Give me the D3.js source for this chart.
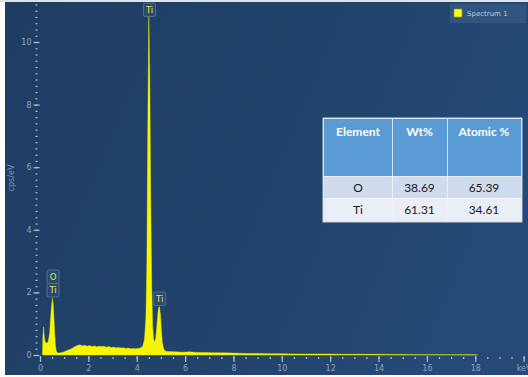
<!DOCTYPE html>
<html>
<head>
<meta charset="utf-8">
<script src="https://cdn.jsdelivr.net/npm/d3@7"></script>
<style>
  html, body { margin: 0; padding: 0; background: #ffffff; }
  svg { display: block; }
</style>
</head>
<body>
<svg id="chart" width="528" height="377"></svg>
<script>
// EDS spectrum of a TiO2 sample: energy (keV) vs counts (cps/eV)
const energy = [
  0.10, 0.12, 0.15, 0.18, 0.22, 0.28, 0.34, 0.40, 0.44, 0.48, 0.52, 0.56, 0.60, 0.64, 0.68,
  0.75, 0.85, 0.95, 1.05, 1.15, 1.25, 1.35, 1.45, 1.55, 1.65, 1.75, 1.85, 1.95, 2.05, 2.15,
  2.25, 2.35, 2.45, 2.55, 2.65, 2.75, 2.85, 2.95, 3.05, 3.15, 3.25, 3.35, 3.45, 3.55, 3.65,
  3.75, 3.85, 3.95, 4.05, 4.15, 4.25, 4.32, 4.38, 4.42, 4.46, 4.50, 4.54, 4.58, 4.62, 4.66,
  4.70, 4.74, 4.78, 4.82, 4.86, 4.90, 4.94, 4.98, 5.02, 5.06, 5.12, 5.20, 5.30, 5.60, 5.90,
  6.20, 6.50, 6.80, 7.20, 7.60, 8.00, 8.50, 9.00, 9.50, 10.00, 10.50, 11.00, 11.50, 12.00, 12.50,
  13.00, 13.50, 14.00, 14.50, 15.00, 15.50, 16.00, 16.50, 17.00, 17.50, 18.00, 18.10
];
const cps = [
  0.00, 0.60, 0.90, 0.55, 0.40, 0.38, 0.42, 0.70, 1.20, 1.60, 1.82, 1.45, 0.80, 0.30, 0.10,
  0.06, 0.07, 0.09, 0.12, 0.15, 0.18, 0.22, 0.27, 0.30, 0.33, 0.29, 0.31, 0.28, 0.30, 0.27,
  0.29, 0.26, 0.28, 0.27, 0.28, 0.25, 0.27, 0.24, 0.25, 0.23, 0.24, 0.22, 0.23, 0.21, 0.22,
  0.20, 0.21, 0.20, 0.21, 0.22, 0.28, 0.50, 1.20, 3.00, 7.50, 10.85, 9.00, 5.00, 2.20, 0.90,
  0.50, 0.42, 0.50, 0.80, 1.20, 1.50, 1.55, 1.30, 0.80, 0.40, 0.18, 0.12, 0.11, 0.10, 0.09,
  0.10, 0.08, 0.08, 0.07, 0.07, 0.06, 0.05, 0.05, 0.04, 0.04, 0.03, 0.03, 0.03, 0.03, 0.02,
  0.02, 0.02, 0.02, 0.015, 0.015, 0.01, 0.01, 0.01, 0.008, 0.008, 0.005, 0.00
];

// Peak identification markers
const peakNames = ["Ti", "O", "Ti", "Ti"];
const peakEnergy = [0.52, 0.52, 4.51, 4.93];

// Axis ticks
const xMajorTicks = [0, 2, 4, 6, 8, 10, 12, 14, 16, 18, 20];
const xTickLabels = ["0", "2", "4", "6", "8", "10", "12", "14", "16", "18", "keV"];
const yMajorTicks = [0, 2, 4, 6, 8, 10];

// Quantification table
const tableHeader = ["Element", "Wt%", "Atomic %"];
const tableElements = ["O", "Ti"];
const tableWt = ["38.69", "61.31"];
const tableAtomic = ["65.39", "34.61"];

const legendLabel = "Spectrum 1";

const svg = d3.select("#chart");
const W = 528, H = 377;

// Background panel
const defs = svg.append("defs");
const grad = defs.append("linearGradient").attr("id", "bg").attr("x1", 0).attr("y1", 0).attr("x2", 1).attr("y2", 0.3);
grad.append("stop").attr("offset", 0).attr("stop-color", "#1e3d63");
grad.append("stop").attr("offset", 0.6).attr("stop-color", "#21436b");
grad.append("stop").attr("offset", 1).attr("stop-color", "#254a77");
svg.append("rect").attr("x", 0).attr("y", 0).attr("width", W).attr("height", H).attr("fill", "#ffffff");
svg.append("rect").attr("x", 0).attr("y", 0).attr("width", W).attr("height", 2).attr("fill", "#dfe3e8");
svg.append("rect").attr("x", 5).attr("y", 2).attr("width", W - 5).attr("height", 373).attr("fill", "url(#bg)");

const x = d3.scaleLinear().domain([0, 20]).range([40, 523.6]);
const y = d3.scaleLinear().domain([0, 10]).range([355, 42]);

const tickColor = "#aebfd4";
const labelColor = "#8ea4bf";

// Y axis: minor ticks every 0.2, major every 2
const yMinor = d3.axisLeft(y).tickValues(d3.range(0, 11.21, 0.2)).tickSize(2).tickFormat("");
svg.append("g").attr("transform", "translate(37.5,0)").call(yMinor)
  .call(g => g.select(".domain").remove())
  .call(g => g.selectAll("line").attr("stroke", tickColor).attr("stroke-width", 1.2));
const yMajor = d3.axisLeft(y).tickValues(yMajorTicks).tickSize(6).tickPadding(2).tickFormat(d3.format("d"));
svg.append("g").attr("transform", "translate(39.5,0)").call(yMajor)
  .call(g => g.select(".domain").remove())
  .call(g => g.selectAll("line").attr("stroke", tickColor).attr("stroke-width", 1.2))
  .call(g => g.selectAll("text").attr("fill", labelColor).attr("font-size", 8).attr("font-family", "DejaVu Sans"));

// X axis: minor ticks every 0.5 keV, major every 2 keV
const xMinor = d3.axisBottom(x).tickValues(d3.range(0, 20.01, 0.5)).tickSize(2).tickFormat("");
svg.append("g").attr("transform", "translate(0,357)").call(xMinor)
  .call(g => g.select(".domain").remove())
  .call(g => g.selectAll("line").attr("stroke", tickColor).attr("stroke-width", 1.2));
const xMajor = d3.axisBottom(x).tickValues(xMajorTicks).tickSize(6).tickPadding(3)
  .tickFormat((d, i) => xTickLabels[i]);
svg.append("g").attr("transform", "translate(0,356)").call(xMajor)
  .call(g => g.select(".domain").remove())
  .call(g => g.selectAll("line").attr("stroke", tickColor).attr("stroke-width", 1.2))
  .call(g => g.selectAll("text").attr("fill", labelColor).attr("font-size", 8).attr("font-family", "DejaVu Sans"));

// Y axis title
svg.append("text")
  .attr("transform", "translate(14,178) rotate(-90)")
  .attr("text-anchor", "middle")
  .attr("fill", "#7893b5").attr("font-size", 8).attr("font-family", "DejaVu Sans")
  .text("cps/eV");

// Spectrum
const pts = energy.map((e, i) => [e, cps[i]]);
const area = d3.area().x(d => x(d[0])).y0(y(0)).y1(d => y(d[1]));
svg.append("path").datum(pts).attr("d", area)
  .attr("fill", "#f6f600").attr("stroke", "#f6f600").attr("stroke-width", 0.4);

// Peak markers: box placed above the local maximum, stacked when sharing an energy
const boxW = 12, boxH = 13.5;
const stackCount = {};
peakNames.forEach((name, i) => {
  const e = peakEnergy[i];
  const localMax = d3.max(pts.filter(p => Math.abs(p[0] - e) < 0.1), p => p[1]);
  const level = stackCount[e] || 0;
  stackCount[e] = level + 1;
  let bottom = y(localMax) - 1 - level * boxH;
  let top = Math.max(3, bottom - boxH);
  const cx = x(e) + 0.5;
  const g = svg.append("g");
  g.append("rect").attr("x", cx - boxW / 2).attr("y", top).attr("width", boxW).attr("height", boxH)
    .attr("rx", 1.5).attr("fill", "#2c4d74").attr("fill-opacity", 0.85)
    .attr("stroke", "#5a7698").attr("stroke-width", 0.8);
  g.append("text").attr("x", cx).attr("y", top + boxH / 2 + 3)
    .attr("text-anchor", "middle").attr("fill", "#e6e640")
    .attr("font-size", 8.5).attr("font-family", "DejaVu Sans").text(name);
});

// Legend
const lg = svg.append("g");
lg.append("rect").attr("x", 450).attr("y", 4).attr("width", 76).attr("height", 19)
  .attr("fill", "#33577f").attr("fill-opacity", 0.9);
lg.append("rect").attr("x", 454).attr("y", 9).attr("width", 8).attr("height", 8)
  .attr("fill", "#ffff00").attr("stroke", "#8a8a30").attr("stroke-width", 0.6);
lg.append("text").attr("x", 467).attr("y", 16).attr("fill", "#b9c8db")
  .attr("font-size", 7).attr("font-family", "DejaVu Sans").text(legendLabel);

// Quantification table
const colX = [324, 392, 447, 521];
const rowY = [119, 176, 198, 221];
const tg = svg.append("g");
tg.append("rect").attr("x", colX[0] - 1).attr("y", rowY[0] - 1)
  .attr("width", colX[3] - colX[0] + 2).attr("height", rowY[3] - rowY[0] + 2)
  .attr("fill", "#f4f6fa").attr("stroke", "#c9d2de").attr("stroke-width", 1);
const rowFills = ["#5b9bd5", "#d0dbee", "#e9eef7"];
for (let r = 0; r < 3; r++) {
  for (let c = 0; c < 3; c++) {
    tg.append("rect").attr("x", colX[c] + (c ? 0.8 : 0)).attr("y", rowY[r] + (r ? 0.8 : 0))
      .attr("width", colX[c + 1] - colX[c] - (c ? 0.8 : 0))
      .attr("height", rowY[r + 1] - rowY[r] - (r ? 0.8 : 0))
      .attr("fill", rowFills[r]);
  }
}
const cellFont = "Lato, 'Open Sans', sans-serif";
tableHeader.forEach((t, c) => {
  tg.append("text").attr("x", (colX[c] + colX[c + 1]) / 2).attr("y", 136)
    .attr("text-anchor", "middle").attr("fill", "#ffffff").attr("font-weight", "bold")
    .attr("font-size", 12).attr("font-family", cellFont).text(t);
});
tableElements.forEach((el, r) => {
  const cy = (rowY[r + 1] + rowY[r + 2]) / 2 + 4.5;
  [el, tableWt[r], tableAtomic[r]].forEach((t, c) => {
    tg.append("text").attr("x", (colX[c] + colX[c + 1]) / 2).attr("y", cy)
      .attr("text-anchor", "middle").attr("fill", "#1a1a1a")
      .attr("font-size", 12).attr("font-family", cellFont).text(t);
  });
});
</script>
</body>
</html>
